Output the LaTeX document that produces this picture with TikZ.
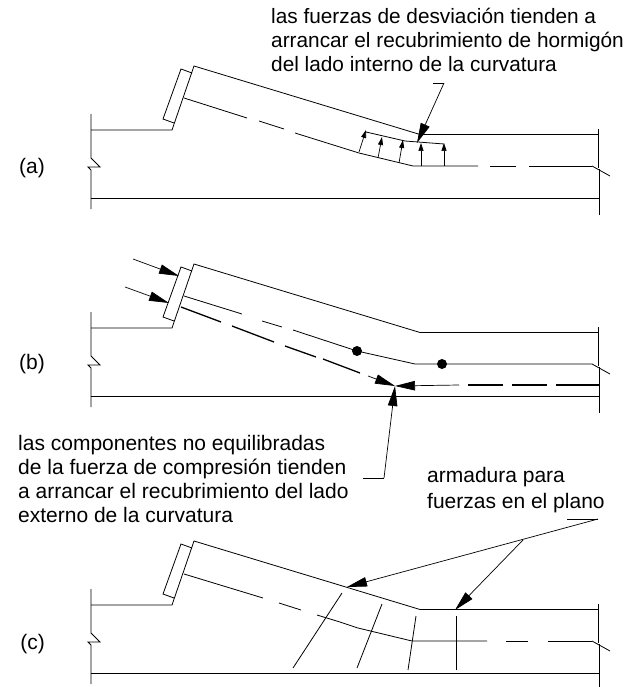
\documentclass[tikz,border=0pt]{standalone}
\usepackage{fontspec}
\setmainfont{Liberation Sans}
\usetikzlibrary{arrows.meta}
\tikzset{
  lbl/.style={inner sep=0pt,font=\fontsize{21}{24}\selectfont,align=left},
  lbltop/.style={lbl,font=\fontsize{20.8}{24}\selectfont},
  edge/.style={line width=0.8pt},
  force/.style={line width=1.3pt},
  tip/.style={-{Triangle[length=20pt,width=9.5pt]},line width=0.7pt},
  small/.style={-{Triangle[length=8pt,width=5pt]},line width=0.7pt}
}
% one beam outline, shifted down per case
\newcommand{\beamshape}[1]{
\begin{scope}[yshift=#1]
\draw[edge] (91,114) -- (91,158) -- (100,167) -- (88,167) -- (91,170) -- (91,209);
\draw[edge] (91,130) -- (172,130) -- (194,66) -- (420,134.5) -- (598,134.5);
\draw[edge] (192,73) -- (181,69) -- (163,119) -- (174,123);
\draw[edge] (91,198) -- (599,198);
\draw[edge] (598,129) -- (598,168);
\draw[edge] (599,169) -- (599,215);
\draw[edge] (592,166) -- (610,176);
\end{scope}
}
\begin{document}
\begin{tikzpicture}[x=1pt,y=-1pt]
\useasboundingbox (0,0) rectangle (638,687);
\beamshape{0pt}
\beamshape{-198pt}
\beamshape{-475pt}
% case a
\draw[edge] (184,98) -- (247,118);
\draw[edge] (259,121) -- (284,129);
\draw[edge] (295,133) -- (359,153) -- (413,166) -- (478,166);
\draw[edge] (490,166) -- (516,166);
\draw[edge] (529,166) -- (592,166);
\draw[edge] (366,132) -- (405,141) -- (444,144);
\draw[small] (359,152) -- (366,130);
\draw[small] (378,158) -- (382,137);
\draw[small] (399,163) -- (403,140);
\draw[small] (421,166) -- (421,143);
\draw[small] (444,166) -- (444,143);
\coordinate (kneeA) at (444,83);
\coordinate (tipA) at (417,143);
\draw[edge] (433,83) -- (kneeA);
\draw[tip] (kneeA) -- (tipA);
\node[lbltop,anchor=base west] (textA) at (271,24) {las fuerzas de desviación tienden a};
\node[lbltop,anchor=base west] (textA2) at (271,48) {arrancar el recubrimiento de hormigón};
\node[lbltop,anchor=base west] (textA3) at (271,72) {del lado interno de la curvatura};
\node[lbl,anchor=base east] (labA) at (45,173) {(a)};
% case b
\draw[edge] (184,296) -- (242,314);
\draw[edge] (262,321) -- (282,327);
\draw[edge] (293,330) -- (357,351) -- (415,364) -- (592,364);
\fill (357,351) circle (5);
\fill (442,364) circle (5);
\draw[tip] (133,259) -- (179,276);
\draw[tip] (125,287) -- (169,303);
\draw[force] (181,307) -- (221,322);
\draw[force] (232,326) -- (274,342);
\draw[force] (285,346) -- (316,357);
\draw[force] (323,359) -- (360,373);
\coordinate (tipB) at (395,386);
\draw[tip] (368,376) -- (tipB);
\draw[tip] (459,385) -- (tipB);
\draw[force] (468,385) -- (503,385);
\draw[force] (512,385) -- (547,385);
\draw[force] (556,385) -- (599,385);
\coordinate (kneeB) at (384,478);
\draw[edge] (363,478) -- (kneeB);
\draw[tip] (kneeB) -- (tipB);
\node[lbl,anchor=base west] (textB) at (18,450) {las componentes no equilibradas};
\node[lbl,anchor=base west] (textB2) at (18,474) {de la fuerza de compresión tienden};
\node[lbl,anchor=base west] (textB3) at (18,498) {a arrancar el recubrimiento del lado};
\node[lbl,anchor=base west] (textB4) at (18,522) {externo de la curvatura};
\node[lbl,anchor=base east] (labB) at (45,369) {(b)};
% case c
\draw[edge] (184,574) -- (263,598);
\draw[edge] (279,603) -- (301,610);
\draw[edge] (317,615) -- (340,622) -- (358,628) -- (412,641) -- (487,641);
\draw[edge] (506,641) -- (528,641);
\draw[edge] (548,641) -- (592,641);
\draw[edge] (342,593) -- (293,668);
\draw[edge] (382,604) -- (357,668);
\draw[edge] (416,616) -- (408,670);
\draw[edge] (456,616) -- (456,670);
\coordinate (kneeC) at (598,519);
\coordinate (forkC) at (523,540);
\draw[edge] (567,519) -- (kneeC);
\draw[tip] (kneeC) -- (347,587);
\draw[tip] (forkC) -- (455,610);
\node[lbl,anchor=base west] (textC) at (427,482) {armadura para};
\node[lbl,anchor=base west] (textC2) at (427,508) {fuerzas en el plano};
\node[lbl,anchor=base east] (labC) at (45,649) {(c)};
\end{tikzpicture}
\end{document}
